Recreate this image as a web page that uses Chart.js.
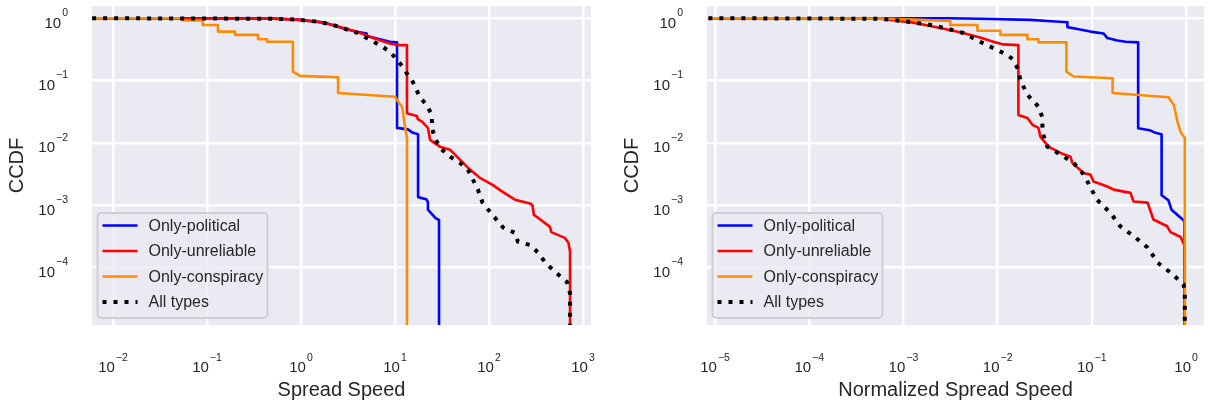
<!DOCTYPE html>
<html lang="en">
<head>
<meta charset="UTF-8">
<title>CCDF of spread speed</title>
<script src="https://cdn.jsdelivr.net/npm/chart.js"></script>
<style>
  body { margin: 0; background: #ffffff; }
  #wrap { position: relative; width: 1209px; height: 407px; }
  .panel { position: absolute; top: 0; height: 407px; }
  #leftPanel { left: 0; width: 600px; }
  #rightPanel { left: 600px; width: 609px; }
</style>
</head>
<body>
<div id="wrap">
  <div class="panel" id="leftPanel"><canvas id="speedChart"></canvas></div>
  <div class="panel" id="rightPanel"><canvas id="normChart"></canvas></div>
</div>
<script>
// series names, same order in both panels
const seriesNames = ['Only-political', 'Only-unreliable', 'Only-conspiracy', 'All types'];

// tick values (powers of ten)
const speedTicks = [1e-2, 1e-1, 1, 10, 100, 1000];
const normTicks = [1e-5, 1e-4, 1e-3, 1e-2, 1e-1, 1];
const ccdfTicks = [1e-4, 1e-3, 1e-2, 1e-1, 1];

// left panel: Spread Speed (curve vertices)
const speedPoliticalX = [0.006, 0.5, 0.9, 1.8, 2.6, 3.8, 5.0, 5.0, 6.9, 8.8, 10.5, 10.5, 13.7, 15.5, 17.6, 17.6, 21.5, 22.4, 22.4, 27, 29.4, 29.4];
const speedPoliticalY = [1, 0.99, 0.95, 0.85, 0.71, 0.61, 0.57, 0.52, 0.46, 0.42, 0.41, 0.0174, 0.0165, 0.0145, 0.0138, 0.00135, 0.00125, 0.00112, 0.00085, 0.00062, 0.00058, 1.2e-5];

const speedUnreliableX = [0.006, 0.5, 0.9, 1.5, 2.2, 3.0, 4.0, 5.5, 7.0, 9.0, 11.0, 13.4, 13.4, 17.1, 17.5, 19.4, 22.4, 23.6, 30, 38.5, 49, 63, 80, 108, 141, 189, 273, 290, 300, 332, 445, 460, 640, 700, 728, 728];
const speedUnreliableY = [1, 0.98, 0.95, 0.88, 0.78, 0.68, 0.6, 0.5, 0.44, 0.39, 0.37, 0.37, 0.030, 0.027, 0.024, 0.022, 0.0174, 0.0112, 0.0087, 0.0078, 0.0054, 0.0037, 0.00275, 0.00214, 0.00162, 0.00123, 0.00107, 0.001, 0.0007, 0.00063, 0.00045, 0.00037, 0.0003, 0.00025, 0.00018, 1.2e-5];

const speedConspiracyX = [0.006, 0.052, 0.056, 0.09, 0.09, 0.131, 0.131, 0.199, 0.199, 0.349, 0.349, 0.435, 0.435, 0.82, 0.82, 0.975, 2.48, 2.48, 10.0, 11.0, 11.9, 12.8, 13.4, 13.4];
const speedConspiracyY = [1, 1, 0.92, 0.92, 0.78, 0.78, 0.61, 0.61, 0.54, 0.54, 0.46, 0.46, 0.42, 0.42, 0.139, 0.119, 0.113, 0.063, 0.055, 0.044, 0.038, 0.018, 0.012, 1.2e-5];

const speedAllX = [0.006, 0.5, 0.9, 1.5, 2.2, 3.0, 4.0, 5.0, 6.9, 8.85, 10.5, 12.1, 13.7, 15.5, 18.5, 21.4, 24.7, 24.7, 26.6, 30.1, 38.5, 49, 59.6, 67.3, 76, 85.4, 108, 141, 189, 203, 273, 332, 393, 445, 527, 600, 673, 728, 728];
const speedAllY = [1, 0.98, 0.95, 0.88, 0.78, 0.67, 0.58, 0.48, 0.37, 0.29, 0.214, 0.166, 0.123, 0.095, 0.053, 0.042, 0.028, 0.0174, 0.012, 0.0083, 0.006, 0.0048, 0.0037, 0.0026, 0.0018, 0.0011, 0.00071, 0.00044, 0.00036, 0.00026, 0.00023, 0.000174, 0.000123, 0.000102, 0.000081, 0.000068, 0.000059, 0.000039, 1.2e-5];

// right panel: Normalized Spread Speed
const normPoliticalX = [8.5e-6, 3e-3, 6.5e-3, 0.0222, 0.0337, 0.055, 0.055, 0.0703, 0.0966, 0.133, 0.146, 0.187, 0.228, 0.31, 0.31, 0.41, 0.474, 0.55, 0.55, 0.65, 0.7, 0.96, 0.96];
const normPoliticalY = [1, 1, 0.98, 0.94, 0.9, 0.86, 0.72, 0.67, 0.61, 0.57, 0.48, 0.44, 0.42, 0.41, 0.0172, 0.016, 0.0145, 0.0138, 0.00145, 0.0012, 0.00085, 0.00056, 1.2e-5];

const normUnreliableX = [8.5e-6, 5.7e-4, 1.27e-3, 1.93e-3, 2.92e-3, 4.3e-3, 6.5e-3, 9.0e-3, 0.0115, 0.0166, 0.0166, 0.0207, 0.0234, 0.0271, 0.0284, 0.0346, 0.0464, 0.0593, 0.062, 0.0814, 0.0966, 0.104, 0.146, 0.17, 0.257, 0.277, 0.39, 0.45, 0.63, 0.684, 0.875, 0.97, 0.97];
const normUnreliableY = [1, 0.98, 0.85, 0.75, 0.66, 0.58, 0.49, 0.42, 0.38, 0.37, 0.028, 0.025, 0.0195, 0.0174, 0.0126, 0.0087, 0.0069, 0.006, 0.0048, 0.0033, 0.0031, 0.0024, 0.002, 0.00178, 0.00158, 0.00115, 0.0011, 0.00059, 0.00046, 0.00037, 0.00031, 0.00022, 1.2e-5];

const normConspiracyX = [8.5e-6, 6e-4, 1.3e-3, 3.14e-3, 3.14e-3, 6.1e-3, 6.1e-3, 0.0107, 0.0107, 0.0207, 0.0207, 0.0271, 0.0271, 0.0537, 0.0537, 0.0637, 0.166, 0.166, 0.65, 0.74, 0.81, 0.875, 0.97, 0.97];
const normConspiracyY = [1, 0.99, 0.95, 0.9, 0.78, 0.78, 0.63, 0.63, 0.54, 0.54, 0.46, 0.46, 0.41, 0.41, 0.139, 0.116, 0.109, 0.063, 0.054, 0.041, 0.022, 0.015, 0.012, 1.2e-5];

const normAllX = [8.5e-6, 5.7e-4, 1.27e-3, 1.93e-3, 2.92e-3, 4.3e-3, 6.5e-3, 9.9e-3, 0.013, 0.0147, 0.0166, 0.0174, 0.0207, 0.0239, 0.0271, 0.0297, 0.030, 0.0337, 0.0464, 0.0637, 0.0795, 0.0913, 0.113, 0.157, 0.2, 0.277, 0.39, 0.5, 0.684, 0.94, 0.97, 0.97];
const normAllY = [1, 0.98, 0.86, 0.78, 0.68, 0.58, 0.42, 0.31, 0.25, 0.214, 0.148, 0.102, 0.059, 0.047, 0.038, 0.026, 0.0145, 0.0087, 0.0065, 0.0048, 0.0033, 0.0023, 0.00123, 0.00076, 0.00046, 0.00032, 0.00021, 0.00012, 0.000083, 0.000054, 0.00004, 1.2e-5];

const FONT = '"Liberation Sans", Arial, sans-serif';
const TEXT = '#262626';

// draws "10" with a raised exponent
function drawPow(ctx, x, mid, e, align) {
  const expText = e < 0 ? '\u2212' + (-e) : String(e);
  ctx.font = '15px ' + FONT;
  const wb = ctx.measureText('10').width;
  ctx.font = '10.5px ' + FONT;
  const we = ctx.measureText(expText).width;
  const total = wb + 1 + we;
  const x0 = align === 'center' ? x - total / 2 : x - total;
  ctx.textAlign = 'left';
  ctx.textBaseline = 'alphabetic';
  ctx.font = '15px ' + FONT;
  ctx.fillText('10', x0, mid + 5.4);
  ctx.font = '10.5px ' + FONT;
  ctx.fillText(expText, x0 + wb + 1, mid - 10 + 3.8);
}

const plotBg = {
  id: 'plotBg',
  beforeDraw(chart) {
    const a = chart.chartArea, ctx = chart.ctx;
    ctx.save();
    ctx.fillStyle = '#eaeaf2';
    ctx.fillRect(a.left, a.top, a.right - a.left, a.bottom - a.top);
    ctx.restore();
  }
};

const powLabels = {
  id: 'powLabels',
  afterDraw(chart) {
    const ctx = chart.ctx, a = chart.chartArea;
    ctx.save();
    ctx.fillStyle = TEXT;
    chart.scales.x.ticks.forEach(t => {
      const px = chart.scales.x.getPixelForValue(t.value);
      drawPow(ctx, px, a.bottom + 42, Math.round(Math.log10(t.value)), 'center');
    });
    chart.scales.y.ticks.forEach(t => {
      const py = chart.scales.y.getPixelForValue(t.value);
      drawPow(ctx, a.left - 24, py + 4, Math.round(Math.log10(t.value)), 'right');
    });
    ctx.restore();
  }
};

const boxLegend = {
  id: 'boxLegend',
  afterDraw(chart) {
    const ctx = chart.ctx, a = chart.chartArea;
    const left = a.left + 5.5, top = a.bottom - 112, w = 170, h = 105;
    ctx.save();
    ctx.beginPath();
    if (ctx.roundRect) ctx.roundRect(left, top, w, h, 4); else ctx.rect(left, top, w, h);
    ctx.fillStyle = 'rgba(234,234,242,0.8)';
    ctx.fill();
    ctx.lineWidth = 2;
    ctx.strokeStyle = '#cdcdd2';
    ctx.stroke();
    chart.data.datasets.forEach((ds, i) => {
      const y = top + 12.5 + i * 25.5;
      ctx.beginPath();
      ctx.setLineDash(ds.borderDash || []);
      ctx.lineWidth = ds.borderWidth;
      ctx.strokeStyle = ds.borderColor;
      ctx.moveTo(left + 5, y);
      ctx.lineTo(left + 40, y);
      ctx.stroke();
      ctx.setLineDash([]);
      ctx.fillStyle = TEXT;
      ctx.font = '16px ' + FONT;
      ctx.textAlign = 'left';
      ctx.textBaseline = 'middle';
      ctx.fillText(ds.label, left + 51, y + 1);
    });
    ctx.restore();
  }
};

function makeSeries(xs, ys) {
  return xs.map((x, i) => ({ x: x, y: ys[i] }));
}

function makeDatasets(lists) {
  const colors = ['#0000ff', '#ff0000', '#ff8c00', '#000000'];
  const orders = [3, 2, 1, 0];
  return lists.map((pair, i) => ({
    label: seriesNames[i],
    data: makeSeries(pair[0], pair[1]),
    borderColor: colors[i],
    borderWidth: i === 3 ? 4 : 2.6,
    borderDash: i === 3 ? [4, 7] : [],
    borderCapStyle: 'butt',
    borderJoinStyle: i === 3 ? 'miter' : 'round',
    tension: 0,
    pointRadius: 0,
    fill: false,
    order: orders[i]
  }));
}

function makeChart(id, datasets, opt) {
  return new Chart(document.getElementById(id), {
    type: 'line',
    data: { datasets: datasets },
    options: {
      responsive: true,
      maintainAspectRatio: false,
      animation: false,
      layout: { padding: { top: 6, right: opt.rightPad, left: 0, bottom: 0 } },
      plugins: { legend: { display: false }, tooltip: { enabled: false } },
      scales: {
        x: {
          type: 'logarithmic',
          min: opt.xMin,
          max: opt.xMax,
          afterBuildTicks: s => { s.ticks = opt.xTicks.map(v => ({ value: v })); },
          afterFit: s => { s.height = 82; },
          grid: { color: '#ffffff', lineWidth: 2.5, drawTicks: false },
          border: { display: false },
          ticks: { display: false },
          title: { display: true, text: opt.xTitle, color: TEXT, font: { size: 20, family: FONT }, padding: { top: 0, bottom: 5 } }
        },
        y: {
          type: 'logarithmic',
          min: 1.2e-5,
          max: 1.57,
          afterBuildTicks: s => { s.ticks = ccdfTicks.map(v => ({ value: v })); },
          afterFit: s => { s.width = opt.yWidth; },
          grid: { color: '#ffffff', lineWidth: 2.5, drawTicks: false },
          border: { display: false },
          ticks: { display: false },
          title: { display: true, text: 'CCDF', color: TEXT, font: { size: 20, family: FONT }, padding: { top: opt.titlePad, bottom: 0 } }
        }
      }
    },
    plugins: [plotBg, powLabels, boxLegend]
  });
}

makeChart('speedChart', makeDatasets([
  [speedPoliticalX, speedPoliticalY],
  [speedUnreliableX, speedUnreliableY],
  [speedConspiracyX, speedConspiracyY],
  [speedAllX, speedAllY]
]), { xMin: 0.00598, xMax: 1216, xTicks: speedTicks, xTitle: 'Spread Speed', yWidth: 92, titlePad: 5.5, rightPad: 9 });

makeChart('normChart', makeDatasets([
  [normPoliticalX, normPoliticalY],
  [normUnreliableX, normUnreliableY],
  [normConspiracyX, normConspiracyY],
  [normAllX, normAllY]
]), { xMin: 8.22e-6, xMax: 1.55, xTicks: normTicks, xTitle: 'Normalized Spread Speed', yWidth: 107, titlePad: 20, rightPad: 5 });
</script>
</body>
</html>
